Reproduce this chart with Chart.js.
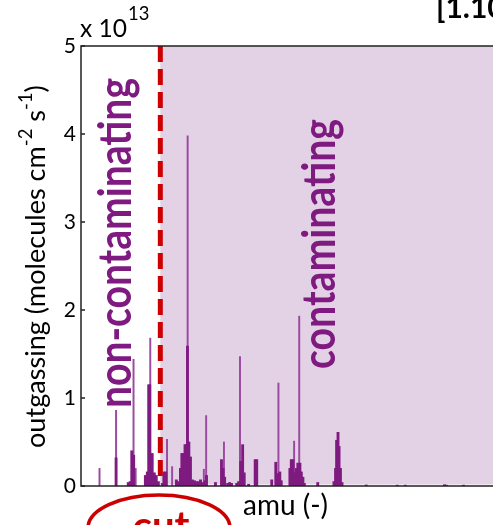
<!DOCTYPE html>
<html>
<head>
<meta charset="utf-8">
<script src="https://cdn.jsdelivr.net/npm/chart.js@4.4.0/dist/chart.umd.min.js"></script>
<style>
  html, body { margin: 0; padding: 0; background: #fff; overflow: hidden; }
  #wrap { width: 493px; height: 525px; overflow: hidden; }
</style>
</head>
<body>
<div id="wrap"><canvas id="spec" width="497" height="525"></canvas></div>
<script>
// outgassing spectrum, values in units of 1e13 molecules cm-2 s-1
// narrow single-mass peaks (thin lines)
const peakAmu = [10.5, 19.9, 29.8, 31.0, 39.3, 48.8, 51.7, 57.4, 60.5, 69.7, 71.0, 81.1, 90.2, 112.0, 120.9, 123.8];
const peakVal = [0.20, 0.86, 1.44, 0.20, 1.68, 0.53, 0.22, 0.37, 3.98, 0.19, 0.80, 0.50, 1.47, 1.17, 0.51, 1.93];

// broader clusters around the peaks
const bandAmu = [19.9, 26.8, 27.9, 28.8, 29.9, 36.5, 37.6, 38.4, 39.0, 40.4, 41.6, 42.7, 43.9,
  46.1, 47.0, 48.1, 54.1, 55.3, 56.4, 57.2, 58.1, 59.0, 59.8, 60.4, 61.2, 62.1, 63.2, 64.4, 65.5, 66.6, 67.8, 68.9,
  70.3, 71.2, 76.3, 79.7, 80.6, 81.5, 83.2, 84.3, 85.4, 88.3, 89.4, 90.6, 91.7, 92.6, 95.1,
  98.8, 99.7, 108.2, 110.5, 111.6, 112.8, 113.6, 118.5, 119.3, 120.2, 121.3, 122.2, 123.0, 124.2, 125.0, 125.9, 126.7,
  134.3, 143.5, 144.4, 145.0, 145.8, 146.4, 147.2, 148.1, 161.8, 179.4, 184.0, 206.2, 207.3, 217.0];
const bandVal = [0.32, 0.04, 0.05, 0.40, 0.35, 0.12, 0.16, 1.15, 1.15, 0.37, 0.15, 0.12, 0.05,
  0.03, 0.16, 0.16, 0.07, 0.05, 0.20, 0.37, 0.37, 0.47, 0.47, 1.59, 0.50, 0.33, 0.07, 0.06, 0.05, 0.05, 0.07, 0.04,
  0.06, 0.12, 0.04, 0.30, 0.20, 0.10, 0.03, 0.04, 0.03, 0.03, 0.05, 0.28, 0.47, 0.15, 0.02,
  0.30, 0.30, 0.07, 0.27, 0.14, 0.16, 0.06, 0.20, 0.30, 0.30, 0.15, 0.20, 0.26, 0.26, 0.16, 0.10, 0.03,
  0.04, 0.05, 0.20, 0.52, 0.61, 0.45, 0.20, 0.04, 0.012, 0.01, 0.01, 0.015, 0.01, 0.01];

const yTicks = [0, 1, 2, 3, 4, 5];
const cutAmu = 45;
const AMU_MAX = 236;

const PURPLE = "#7e1a80";
const RED = "#cc0000";
const FONT = "Lato, 'DejaVu Sans', sans-serif";

function fitSize(ctx, text, weight, target) {
  ctx.font = `${weight} 100px ${FONT}`;
  return 100 * target / ctx.measureText(text).width;
}

function drawRotated(ctx, text, size, baseX, centerY, length, color) {
  ctx.save();
  ctx.font = `bold ${size}px ${FONT}`;
  const w = ctx.measureText(text).width;
  ctx.translate(baseX, centerY);
  ctx.rotate(-Math.PI / 2);
  ctx.scale(length / w, 1);
  ctx.textAlign = "center";
  ctx.textBaseline = "alphabetic";
  ctx.fillStyle = color;
  ctx.fillText(text, 0, 0);
  ctx.restore();
}

const overlay = {
  id: "overlay",
  beforeDatasetsDraw(chart) {
    const { ctx, chartArea: a, scales: { x } } = chart;
    const xc = x.getPixelForValue(cutAmu);
    ctx.save();
    ctx.fillStyle = "#e3d1e5";
    ctx.fillRect(xc, a.top, a.right - xc, a.bottom - a.top - 1.5);
    ctx.restore();
  },
  afterDatasetsDraw(chart) {
    const { ctx, chartArea: a, scales: { x, y } } = chart;
    const xc = x.getPixelForValue(cutAmu);

    // cut line
    ctx.save();
    ctx.strokeStyle = RED;
    ctx.lineWidth = 5;
    ctx.setLineDash([16, 7]);
    ctx.beginPath();
    ctx.moveTo(xc, a.top);
    ctx.lineTo(xc, a.bottom - 3);
    ctx.stroke();
    ctx.restore();

    // frame and inward ticks
    ctx.save();
    ctx.strokeStyle = "#222";
    ctx.lineWidth = 1.5;
    ctx.strokeRect(a.left, a.top, a.right - a.left, a.bottom - a.top);
    ctx.beginPath();
    yTicks.forEach(v => {
      const py = y.getPixelForValue(v);
      ctx.moveTo(a.left, py); ctx.lineTo(a.left + 4, py);
      ctx.moveTo(a.right, py); ctx.lineTo(a.right - 4, py);
    });
    ctx.stroke();
    ctx.restore();

    // region labels
    drawRotated(ctx, "non-contaminating", 45, 131, 243, 330, PURPLE);
    drawRotated(ctx, "contaminating", 45, 335, 244, 250, PURPLE);
  },
  afterDraw(chart) {
    const ctx = chart.ctx;
    ctx.save();
    ctx.fillStyle = "#000";
    ctx.textBaseline = "alphabetic";
    ctx.textAlign = "left";

    // y title with superscripts
    const parts = [["outgassing (molecules cm", false], ["-2", true], [" s", false], ["-1", true], [")", false]];
    let s = 20;
    const measure = sz => parts.reduce((t, [txt, sup]) => {
      ctx.font = `${sup ? sz * 0.68 : sz}px ${FONT}`;
      return t + ctx.measureText(txt).width;
    }, 0);
    s = s * 363 / measure(s);
    ctx.save();
    ctx.translate(45, 448);
    ctx.rotate(-Math.PI / 2);
    let px = 0;
    parts.forEach(([txt, sup]) => {
      ctx.font = `${sup ? s * 0.68 : s}px ${FONT}`;
      ctx.fillText(txt, px, sup ? -s * 0.48 : 0);
      px += ctx.measureText(txt).width;
    });
    ctx.restore();

    // x title
    const xs = fitSize(ctx, "amu (-)", "normal", 85);
    ctx.font = `${xs}px ${FONT}`;
    ctx.fillText("amu (-)", 243, 515);

    // exponent
    const es = fitSize(ctx, "x 10", "normal", 47);
    ctx.font = `${es}px ${FONT}`;
    ctx.fillText("x 10", 80, 37);
    ctx.font = `${es * 0.75}px ${FONT}`;
    ctx.fillText("13", 128, 20);

    // clipped reference tag
    ctx.font = `bold 30px ${FONT}`;
    ctx.fillText("[1.10]", 436, 18);

    // cut marker
    ctx.strokeStyle = RED;
    ctx.lineWidth = 3.5;
    ctx.beginPath();
    ctx.ellipse(159, 528, 71, 33, 0, 0, Math.PI * 2);
    ctx.stroke();
    ctx.fillStyle = RED;
    const cs = fitSize(ctx, "cut", "bold", 57);
    ctx.font = `bold ${cs}px ${FONT}`;
    ctx.textAlign = "center";
    ctx.fillText("cut", 161, 540);
    ctx.restore();
  }
};

new Chart(document.getElementById("spec"), {
  type: "bar",
  data: {
    datasets: [
      {
        label: "clusters",
        data: bandAmu.map((a, i) => ({ x: a, y: bandVal[i] })),
        backgroundColor: PURPLE,
        barThickness: 2.2,
        grouped: false,
        borderWidth: 0
      },
      {
        label: "peaks",
        data: peakAmu.map((a, i) => ({ x: a, y: peakVal[i] })),
        backgroundColor: "#9a4aa0",
        barThickness: 1.3,
        grouped: false,
        borderWidth: 0
      }
    ]
  },
  plugins: [overlay],
  options: {
    responsive: false,
    animation: false,
    layout: { padding: { top: 46, right: 0, left: 0, bottom: 0 } },
    plugins: { legend: { display: false }, tooltip: { enabled: false } },
    scales: {
      x: {
        type: "linear",
        min: 0,
        max: AMU_MAX,
        offset: false,
        ticks: { display: false },
        grid: { display: false, drawTicks: false },
        border: { display: false },
        afterFit: sc => { sc.height = 39; }
      },
      y: {
        min: 0,
        max: 5,
        ticks: {
          stepSize: 1,
          padding: 5,
          color: "#000",
          font: { family: FONT, size: 21 }
        },
        grid: { display: false, drawTicks: false },
        border: { display: false },
        afterFit: sc => { sc.width = 81; }
      }
    }
  }
});
</script>
</body>
</html>
